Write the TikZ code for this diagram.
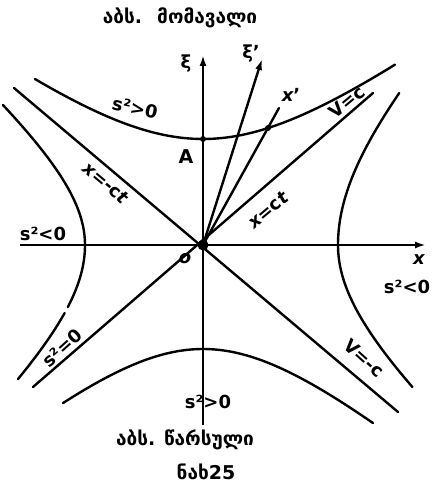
\documentclass[tikz,border=0pt]{standalone}
\usepackage{fontspec}
\setmainfont{DejaVu Sans}
\newfontfamily\geo[Script=Georgian]{DejaVu Sans}
\usetikzlibrary{arrows.meta}
\begin{document}
\begin{tikzpicture}[x=1pt,y=-1pt,
  curve/.style={line width=2.4pt, line cap=round},
  axis/.style={line width=2.4pt, -{Latex[length=11pt,width=7pt]}},
  lbl/.style={font=\bfseries\fontsize{18}{18}\selectfont, inner sep=0pt},
  geolbl/.style={font=\geo\bfseries\fontsize{19}{19}\selectfont, inner sep=0pt},
  dotted point/.style={circle, fill=black, inner sep=0pt, minimum size=6pt}]
\useasboundingbox (0,0) rectangle (438,486);
% named points
\coordinate (O) at (203,245);
\coordinate (xl) at (20,245);
\coordinate (xr) at (426,245);
\coordinate (yb) at (203,425);
\coordinate (yt) at (203,55);
\coordinate (xit) at (262,59);
\coordinate (xpt) at (279,108);
\coordinate (ur) at (373,93);
\coordinate (lr) at (398,412);
\coordinate (ul) at (14,88);
\coordinate (ll) at (33,387);
% axes
\draw[axis] (xl) -- (xr);
\draw[axis] (yb) -- (yt);
\draw[axis] (O) -- (xit);
\draw[curve] (O) -- (xpt);
% light cone
\draw[curve] (ul) -- (lr);
\draw[curve] (ll) -- (ur);
% hyperbolas
\draw[curve] plot[domain=35:395, samples=90, smooth] (\x, {245 - 10*sqrt(10.6^2 + (0.076*(\x-203))^2)});
\draw[curve] plot[domain=63:373, samples=90, smooth] (\x, {245 + 10*sqrt(10.4^2 + (0.085*(\x-203))^2)});
\draw[curve] plot[domain=-152:0, samples=60, smooth] ({203 + 10*sqrt(13.5^2 + (0.0937*\x)^2)}, {245+\x});
\draw[curve] plot[domain=0:142, samples=60, smooth] ({203 + 10*sqrt(13.5^2 + (0.1127*\x)^2)}, {245+\x});
\draw[curve] plot[domain=-140:0, samples=60, smooth] ({203 - 10*sqrt(11.8^2 + (0.1154*\x)^2)}, {245+\x});
\draw[curve] plot[domain=0:62, samples=40, smooth] ({203 - 10*sqrt(11.8^2 + (0.1063*\x)^2)}, {245+\x});
\draw[curve] plot[domain=68:134, samples=40, smooth] ({203 - 10*sqrt(11.8^2 + (0.1063*\x)^2)}, {245+\x});
% points
\node[dotted point] (Apt) at (203,139) {};
\node[dotted point] (Ppt) at (268,128) {};
\node[circle, fill=black, inner sep=0pt, minimum size=11pt] (Odot) at (O) {};
% labels
\node[geolbl] (top) at (180,18) {აბს.\hspace{0.8em}მომავალი};
\node[geolbl] (bot) at (185,440) {აბს. წარსული};
\node[geolbl] (fig) at (206,472) {ნახ25};
\node[lbl] (xi) at (186,64) {ξ};
\node[lbl] (xip) at (251,54) {ξ'};
\node[lbl] (xp) at (291,95) {\itshape x\upshape '};
\node[lbl, rotate=40] (vc) at (347,102) {V=c};
\node[lbl, rotate=40] (xct) at (268,210) {\itshape x\upshape =c\itshape t};
\node[lbl, rotate=-40] (xmct) at (106,183) {\itshape x\upshape =-c\itshape t};
\node[lbl, rotate=-12] (s1) at (135,108) {s²>0};
\node[font=\bfseries\fontsize{19}{19}\selectfont, inner sep=0pt] (A) at (186,157) {A};
\node[lbl] (s2) at (43,234) {s²<0};
\node[lbl] (o) at (185,259) {\itshape o};
\node[lbl] (xax) at (419,260) {\itshape x};
\node[lbl] (s3) at (407,287) {s²<0};
\node[lbl, rotate=42] (s4) at (62,348) {s²=0};
\node[lbl, rotate=-42] (vmc) at (364,358) {V=-c};
\node[lbl, fill=white, inner xsep=1pt] (s5) at (208,402) {s²>0};
\draw[line width=2.4pt] (203,388) -- (203,416);
\end{tikzpicture}
\end{document}
